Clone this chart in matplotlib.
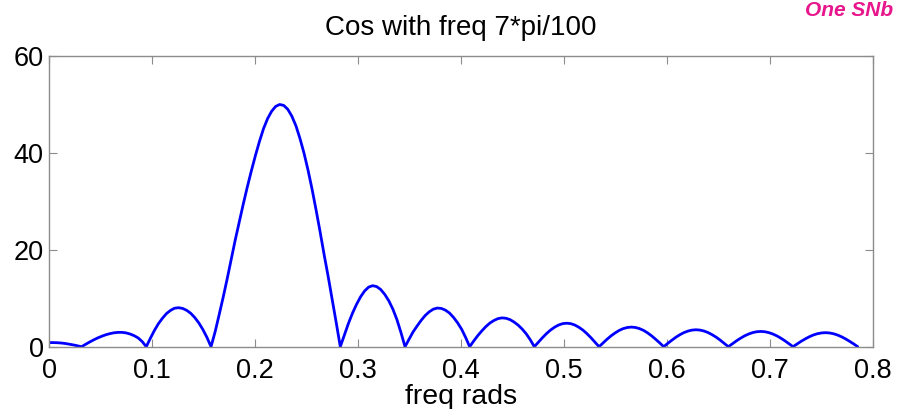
import matplotlib
matplotlib.use("Agg")
import matplotlib.pyplot as plt

plt.rcParams['font.family'] = ['Liberation Sans', 'DejaVu Sans']

title_text = "Cos with freq 7*pi/100"
xlabel_text = "freq rads"
note_text = "One SNb"

xticks = [0, 0.1, 0.2, 0.3, 0.4, 0.5, 0.6, 0.7, 0.8]
xtick_labels = ["0", "0.1", "0.2", "0.3", "0.4", "0.5", "0.6", "0.7", "0.8"]
yticks = [0, 20, 40, 60]
ytick_labels = ["0", "20", "40", "60"]

freq_rads = [
    0.0000, 0.0039, 0.0079, 0.0118, 0.0157, 0.0196, 0.0236, 0.0275,
    0.0314, 0.0353, 0.0393, 0.0432, 0.0471, 0.0511, 0.0550, 0.0589,
    0.0628, 0.0668, 0.0707, 0.0746, 0.0785, 0.0825, 0.0864, 0.0903,
    0.0942, 0.0982, 0.1021, 0.1060, 0.1100, 0.1139, 0.1178, 0.1217,
    0.1257, 0.1296, 0.1335, 0.1374, 0.1414, 0.1453, 0.1492, 0.1532,
    0.1571, 0.1610, 0.1649, 0.1689, 0.1728, 0.1767, 0.1806, 0.1846,
    0.1885, 0.1924, 0.1963, 0.2003, 0.2042, 0.2081, 0.2121, 0.2160,
    0.2199, 0.2238, 0.2278, 0.2317, 0.2356, 0.2396, 0.2435, 0.2474,
    0.2513, 0.2553, 0.2592, 0.2631, 0.2670, 0.2710, 0.2749, 0.2788,
    0.2827, 0.2867, 0.2906, 0.2945, 0.2985, 0.3024, 0.3063, 0.3102,
    0.3142, 0.3181, 0.3220, 0.3259, 0.3299, 0.3338, 0.3377, 0.3416,
    0.3456, 0.3495, 0.3534, 0.3574, 0.3613, 0.3652, 0.3691, 0.3731,
    0.3770, 0.3809, 0.3848, 0.3888, 0.3927, 0.3966, 0.4006, 0.4045,
    0.4084, 0.4123, 0.4163, 0.4202, 0.4241, 0.4280, 0.4320, 0.4359,
    0.4398, 0.4437, 0.4477, 0.4516, 0.4555, 0.4595, 0.4634, 0.4673,
    0.4712, 0.4752, 0.4791, 0.4830, 0.4869, 0.4909, 0.4948, 0.4987,
    0.5027, 0.5066, 0.5105, 0.5144, 0.5184, 0.5223, 0.5262, 0.5301,
    0.5341, 0.5380, 0.5419, 0.5458, 0.5498, 0.5537, 0.5576, 0.5616,
    0.5655, 0.5694, 0.5733, 0.5773, 0.5812, 0.5851, 0.5890, 0.5930,
    0.5969, 0.6008, 0.6048, 0.6087, 0.6126, 0.6165, 0.6205, 0.6244,
    0.6283, 0.6322, 0.6362, 0.6401, 0.6440, 0.6480, 0.6519, 0.6558,
    0.6597, 0.6637, 0.6676, 0.6715, 0.6754, 0.6794, 0.6833, 0.6872,
    0.6912, 0.6951, 0.6990, 0.7029, 0.7069, 0.7108, 0.7147, 0.7186,
    0.7226, 0.7265, 0.7304, 0.7344, 0.7383, 0.7422, 0.7461, 0.7501,
    0.7540, 0.7579, 0.7618, 0.7658, 0.7697, 0.7736, 0.7775, 0.7815,
    0.7854,
]
magnitude = [
    # 0 .. first null
    0.85, 0.85, 0.82, 0.76, 0.66, 0.52, 0.36, 0.18,
    # lobe 1
    0.0, 0.50, 0.98, 1.42, 1.82, 2.17, 2.47, 2.70,
    2.87, 2.96, 2.96, 2.85, 2.62, 2.27, 1.80, 1.05,
    # lobe 2
    0.0, 1.75, 3.35, 4.75, 5.90, 6.85, 7.50, 7.95,
    8.05, 7.90, 7.50, 6.90, 6.00, 4.90, 3.55, 1.90,
    # main lobe
    0.0, 3.0, 6.5, 10.2, 14.0, 18.0, 22.0, 25.8,
    29.5, 33.0, 36.3, 39.5, 42.4, 45.0, 47.1, 48.6,
    49.6, 50.0, 49.8, 49.0, 47.6, 45.6, 43.0, 40.0,
    36.5, 32.5, 28.2, 23.7, 19.0, 14.4, 9.7, 4.9,
    # lobe 3
    0.0, 2.45, 4.80, 6.90, 8.75, 10.3, 11.5, 12.3,
    12.6, 12.4, 11.8, 10.8, 9.45, 7.75, 5.60, 2.95,
    # lobe 4
    0.0, 1.55, 3.05, 4.30, 5.45, 6.45, 7.20, 7.75,
    7.98, 7.90, 7.55, 6.95, 6.05, 4.95, 3.60, 1.90,
    # lobe 5
    0.0, 1.17, 2.30, 3.27, 4.15, 4.88, 5.42, 5.80,
    5.95, 5.87, 5.58, 5.08, 4.45, 3.62, 2.64, 1.42,
    # lobe 6
    0.0, 0.95, 1.86, 2.70, 3.43, 4.03, 4.48, 4.76,
    4.85, 4.76, 4.48, 4.03, 3.43, 2.70, 1.86, 0.95,
    # lobe 7
    0.0, 0.79, 1.55, 2.25, 2.86, 3.37, 3.74, 3.97,
    4.05, 3.97, 3.74, 3.37, 2.86, 2.25, 1.55, 0.79,
    # lobe 8
    0.0, 0.68, 1.34, 1.95, 2.47, 2.91, 3.23, 3.43,
    3.50, 3.43, 3.23, 2.91, 2.47, 1.95, 1.34, 0.68,
    # lobe 9
    0.0, 0.61, 1.21, 1.75, 2.23, 2.62, 2.91, 3.09,
    3.15, 3.09, 2.91, 2.62, 2.23, 1.75, 1.21, 0.61,
    # lobe 10
    0.0, 0.57, 1.11, 1.61, 2.05, 2.41, 2.68, 2.84,
    2.90, 2.84, 2.68, 2.41, 2.05, 1.61, 1.11, 0.57,
    0.0,
]

fig = plt.figure(figsize=(8.98, 4.09), dpi=100)
ax = fig.add_axes([0.0549, 0.1523, 0.917, 0.7107])

ax.plot(freq_rads, magnitude, color=(0, 0, 1), linewidth=2.0,
        solid_joinstyle='round', solid_capstyle='round')

ax.set_xlim(0, 0.8)
ax.set_ylim(0, 60)
ax.set_xticks(xticks)
ax.set_xticklabels(xtick_labels)
ax.set_yticks(yticks)
ax.set_yticklabels(ytick_labels)

axis_gray = '#8c8c8c'
for s in ax.spines.values():
    s.set_color(axis_gray)
    s.set_linewidth(1.0)
ax.tick_params(direction='in', length=6, width=0.8, color=axis_gray,
               top=True, right=True, labelsize=19.5, labelcolor='black')
ax.tick_params(axis='x', pad=8)
ax.tick_params(axis='y', pad=4)

ax.set_title(title_text, fontsize=20, pad=15)
ax.set_xlabel(xlabel_text, fontsize=20.5, labelpad=0)

fig.text(0.995, 0.998, note_text, color='#e8168c', fontsize=15, fontweight='bold',
         fontstyle='italic', ha='right', va='top')

fig.savefig("out.png", dpi=100)
